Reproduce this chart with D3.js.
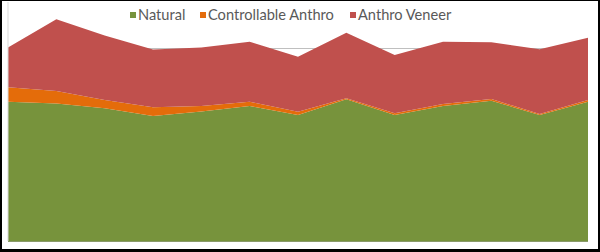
<!DOCTYPE html>
<html>
<head>
<meta charset="utf-8">
<script src="https://cdn.jsdelivr.net/npm/d3@7"></script>
<style>
  body { margin: 0; background: #000; }
  svg { display: block; }
</style>
</head>
<body>
<svg id="chart" width="600" height="252"></svg>
<script>
// data (13 periods, no labels shown)
var periods = ['1', '2', '3', '4', '5', '6', '7', '8', '9', '10', '11', '12', '13'];
var natural = [72.2, 71.3, 68.8, 64.8, 67.1, 69.9, 65.3, 73.4, 65.3, 69.9, 72.7, 65.3, 72.2];
var controllable = [7.4, 6.4, 4.3, 4.5, 2.8, 2.3, 1.7, 0.5, 0.9, 1.1, 0.9, 0.5, 0.9];
var veneer = [20.7, 37.2, 33.4, 29.9, 30.4, 31.1, 28.5, 34.0, 30.2, 32.3, 29.4, 33.5, 32.2];
var seriesNames = ['Natural', 'Controllable Anthro', 'Anthro Veneer'];
var seriesColors = ['#77933c', '#e46c0a', '#c0504d'];
var gridTicks = [100];

var svg = d3.select('#chart');

// black frame + white card
svg.append('rect').attr('width', 600).attr('height', 252).attr('fill', '#000');
svg.append('rect').attr('x', 2).attr('y', 1).attr('width', 596).attr('height', 248).attr('fill', '#fff');

var x = d3.scalePoint().domain(periods).range([8, 588]);
var y = d3.scaleLinear().domain([0, 100]).range([241, 48]);

// gridline
var grid = svg.append('g')
    .attr('transform', 'translate(8,0)')
    .call(d3.axisLeft(y).tickValues(gridTicks).tickSize(-580).tickFormat(''));
grid.select('.domain').remove();
grid.selectAll('line').attr('stroke', '#bfbfbf');

// build table for stack
var rows = periods.map(function(p, i){
    return { period: p, 'Natural': natural[i], 'Controllable Anthro': controllable[i], 'Anthro Veneer': veneer[i] };
});
var stacked = d3.stack().keys(seriesNames)(rows);

var area = d3.area()
    .x(function(d){ return x(d.data.period); })
    .y0(function(d){ return y(d[0]); })
    .y1(function(d){ return y(d[1]); });

svg.append('g').selectAll('path')
    .data(stacked)
    .enter().append('path')
    .attr('d', area)
    .attr('fill', function(d, i){ return seriesColors[i]; });

// axis lines
svg.append('line').attr('x1', 8).attr('x2', 8).attr('y1', 2).attr('y2', 241)
    .attr('stroke', '#d9d9d9');
svg.append('line').attr('x1', 8).attr('x2', 588).attr('y1', 241.5).attr('y2', 241.5)
    .attr('stroke', '#8a9a6a');

// legend
var legendX = [130, 200, 350];
var legend = svg.append('g');
var items = legend.selectAll('g')
    .data(seriesNames)
    .enter().append('g')
    .attr('transform', function(d, i){ return 'translate(' + legendX[i] + ',0)'; });
items.append('rect')
    .attr('x', 0).attr('y', 12).attr('width', 6).attr('height', 6)
    .attr('fill', function(d, i){ return seriesColors[i]; });
var labels = items.append('text')
    .attr('x', 8).attr('y', 19.5)
    .attr('font-family', 'Lato, "Open Sans", sans-serif')
    .attr('font-size', 12)
    .attr('fill', '#595959')
    .text(function(d){ return d; });

// scale font so "Controllable Anthro" is about 126px wide like the original
var w = labels.nodes()[1].getComputedTextLength();
labels.attr('font-size', 12 * 126 / w);
</script>
</body>
</html>
